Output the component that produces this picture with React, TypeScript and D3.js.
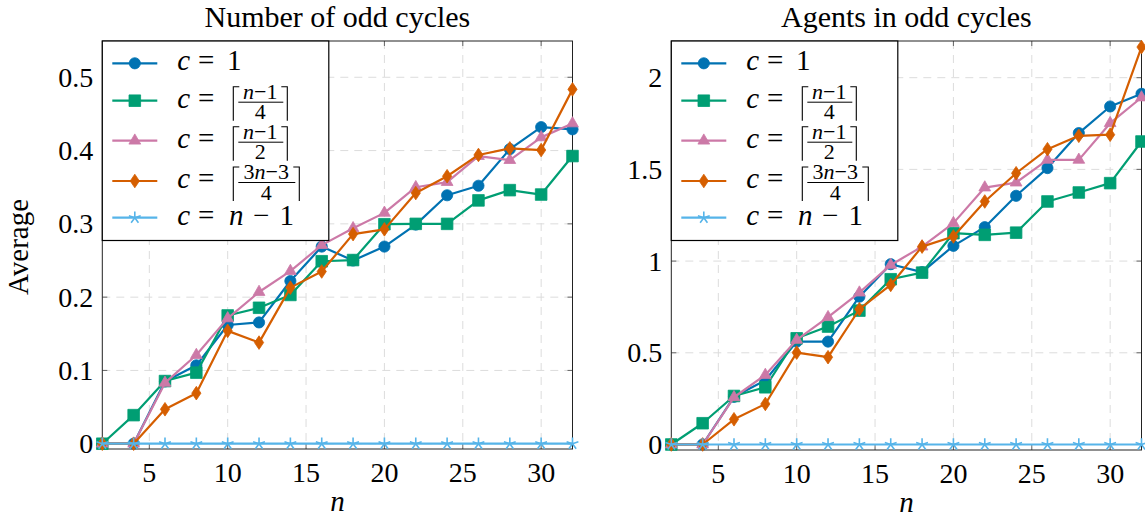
import React from 'react';
import * as d3 from 'd3';

// ---------------- data ----------------
const nValues = [2, 4, 6, 8, 10, 12, 14, 16, 18, 20, 22, 24, 26, 28, 30, 32];

// Number of odd cycles
const oddC1 = [0, 0, 0.085, 0.107, 0.162, 0.1655, 0.222, 0.269, 0.25, 0.269, 0.299, 0.339, 0.352, 0.402, 0.432, 0.429];
const oddCQuarter = [0, 0.039, 0.0855, 0.097, 0.175, 0.1855, 0.203, 0.249, 0.2506, 0.2995, 0.3, 0.3, 0.332, 0.346, 0.34, 0.3925];
const oddCHalf = [0, 0, 0.083, 0.121, 0.171, 0.207, 0.2356, 0.271, 0.294, 0.315, 0.35, 0.357, 0.3925, 0.387, 0.418, 0.437];
const oddCThreeQuarter = [0, 0, 0.047, 0.069, 0.154, 0.138, 0.213, 0.235, 0.286, 0.2925, 0.342, 0.365, 0.394, 0.403, 0.4007, 0.4835];
const oddCNMinus1 = [0, 0, 0, 0, 0, 0, 0, 0, 0, 0, 0, 0, 0, 0, 0, 0];

// Agents in odd cycles
const agentsC1 = [0, 0, 0.26, 0.35, 0.561, 0.561, 0.806, 0.983, 0.94, 1.083, 1.185, 1.356, 1.507, 1.698, 1.843, 1.912];
const agentsCQuarter = [0, 0.116, 0.2646, 0.312, 0.579, 0.643, 0.73, 0.901, 0.937, 1.152, 1.143, 1.155, 1.325, 1.374, 1.425, 1.652];
const agentsCHalf = [0, 0, 0.2575, 0.379, 0.57, 0.694, 0.828, 0.979, 1.079, 1.207, 1.401, 1.428, 1.552, 1.552, 1.752, 1.892];
const agentsCThreeQuarter = [0, 0, 0.1375, 0.221, 0.501, 0.476, 0.7375, 0.87, 1.079, 1.134, 1.325, 1.479, 1.61, 1.683, 1.689, 2.167];
const agentsCNMinus1 = [0, 0, 0, 0, 0, 0, 0, 0, 0, 0, 0, 0, 0, 0, 0, 0];

const xTicks = [5, 10, 15, 20, 25, 30];
const oddYTicks = [0, 0.1, 0.2, 0.3, 0.4, 0.5];
const agentsYTicks = [0, 0.5, 1, 1.5, 2];

const titles = ['Number of odd cycles', 'Agents in odd cycles'];
const xLabel = 'n';
const yLabel = 'Average';

const seriesColors = ['#0072B2', '#009E73', '#CC79A7', '#D55E00', '#56B4E9'];
const seriesMarkers = ['circle', 'square', 'triangle', 'diamond', 'star'];

// legend label descriptions
const legendLabels = [
  { kind: 'plain' },
  { kind: 'frac', num: ['', 'n', '−1'], den: '4' },
  { kind: 'frac', num: ['', 'n', '−1'], den: '2' },
  { kind: 'frac', num: ['3', 'n', '−3'], den: '4' },
  { kind: 'nminus' },
];

// ---------------- styling ----------------
const FONT = 'Liberation Serif, serif';
const W = 1145;
const H = 520;

function markerPath(kind: string): string {
  const p = d3.path();
  if (kind === 'circle') {
    p.arc(0, 0, 5.6, 0, Math.PI * 2);
  } else if (kind === 'square') {
    p.rect(-5.8, -5.8, 11.6, 11.6);
  } else if (kind === 'triangle') {
    const r = 6.8;
    p.moveTo(0, -r);
    p.lineTo(r * Math.cos(Math.PI / 6), r / 2);
    p.lineTo(-r * Math.cos(Math.PI / 6), r / 2);
    p.closePath();
  } else if (kind === 'diamond') {
    p.moveTo(0, -6.8);
    p.lineTo(4.6, 0);
    p.lineTo(0, 6.8);
    p.lineTo(-4.6, 0);
    p.closePath();
  } else {
    const r = 6.2;
    for (let k = 0; k < 5; k++) {
      const a = (k * 2 * Math.PI) / 5;
      p.moveTo(0, 0);
      p.lineTo(r * Math.sin(a), -r * Math.cos(a));
    }
  }
  return p.toString();
}

function Marker({ kind, color, x, y }: { kind: string; color: string; x: number; y: number }) {
  const isStar = kind === 'star';
  return (
    <path
      d={markerPath(kind)}
      transform={`translate(${x},${y})`}
      fill={isStar ? 'none' : color}
      stroke={color}
      strokeWidth={isStar ? 1.6 : 0.8}
      strokeLinejoin="miter"
    />
  );
}

function LegendLabel({ spec, x0, rowY }: { spec: any; x0: number; rowY: number }) {
  const fs = 29;
  const base = rowY + 7;
  const common = { fontFamily: FONT, fontSize: fs, fill: '#000' };
  const items: React.ReactNode[] = [
    <text key="c" x={x0 + 7} y={base} textAnchor="middle" fontStyle="italic" {...common}>c</text>,
    <text key="eq" x={x0 + 29.5} y={base} textAnchor="middle" {...common}>=</text>,
  ];
  if (spec.kind === 'plain') {
    items.push(<text key="one" x={x0 + 57.5} y={base} textAnchor="middle" {...common}>1</text>);
  } else if (spec.kind === 'nminus') {
    items.push(<text key="n" x={x0 + 59.5} y={base} textAnchor="middle" fontStyle="italic" {...common}>n</text>);
    items.push(<text key="m" x={x0 + 84.5} y={base} textAnchor="middle" {...common}>−</text>);
    items.push(<text key="one" x={x0 + 110} y={base} textAnchor="middle" {...common}>1</text>);
  } else {
    const wide = spec.num[0] !== '';
    const bl = x0 + 56.5;
    const fracW = wide ? 57 : 45;
    const br = bl + fracW + 9;
    const cx = bl + 4.5 + fracW / 2;
    const top = rowY - 14;
    const bottom = rowY + 20;
    const barY = rowY + 1.5;
    const ffs = 22;
    items.push(
      <path key="lb" d={`M${bl + 6},${top}H${bl}V${bottom}`} fill="none" stroke="#000" strokeWidth={1.1} />,
      <path key="rb" d={`M${br - 6},${top}H${br}V${bottom}`} fill="none" stroke="#000" strokeWidth={1.1} />,
      <line key="bar" x1={bl + 5} x2={br - 4} y1={barY} y2={barY} stroke="#000" strokeWidth={1} />,
      <text key="num" x={cx} y={barY - 3.5} textAnchor="middle" fontFamily={FONT} fontSize={ffs}>
        {spec.num[0]}
        <tspan fontStyle="italic">{spec.num[1]}</tspan>
        {spec.num[2]}
      </text>,
      <text key="den" x={cx} y={barY + 17} textAnchor="middle" fontFamily={FONT} fontSize={ffs}>
        {spec.den}
      </text>
    );
  }
  return <g>{items}</g>;
}

function Panel({
  left,
  right,
  top,
  bottom,
  yDomain,
  yTicks,
  series,
  title,
  showYLabel,
}: {
  left: number;
  right: number;
  top: number;
  bottom: number;
  yDomain: [number, number];
  yTicks: number[];
  series: number[][];
  title: string;
  showYLabel: boolean;
}) {
  const x = d3.scaleLinear().domain([2, 32]).range([left, right]);
  const y = d3.scaleLinear().domain(yDomain).range([bottom, top]);
  const line = d3
    .line<number>()
    .x((_, i) => x(nValues[i]))
    .y((d) => y(d));
  const tickLen = 5;
  const fmt = (v: number) => (v === 0 ? '0' : String(v));

  // legend box layout
  const lgLeft = left;
  const lgTop = top;
  const lgW = 226.5;
  const lgH = 199.5;
  const rowYs = [22.3, 59.7, 99.7, 140, 176.7];

  return (
    <g>
      {/* grid */}
      {xTicks.map((t) => (
        <line key={'gx' + t} x1={x(t)} x2={x(t)} y1={top} y2={bottom} stroke="#dcdcdc" strokeWidth={1} strokeDasharray="8,6" />
      ))}
      {yTicks.map((t) => (
        <line key={'gy' + t} x1={left} x2={right} y1={y(t)} y2={y(t)} stroke="#dcdcdc" strokeWidth={1} strokeDasharray="8,6" />
      ))}
      {/* ticks */}
      {xTicks.map((t) => (
        <g key={'tx' + t}>
          <line x1={x(t)} x2={x(t)} y1={bottom} y2={bottom - tickLen} stroke="#666" strokeWidth={1} />
          <line x1={x(t)} x2={x(t)} y1={top} y2={top + tickLen} stroke="#666" strokeWidth={1} />
        </g>
      ))}
      {yTicks.map((t) => (
        <g key={'ty' + t}>
          <line x1={left} x2={left + tickLen} y1={y(t)} y2={y(t)} stroke="#666" strokeWidth={1} />
          <line x1={right} x2={right - tickLen} y1={y(t)} y2={y(t)} stroke="#666" strokeWidth={1} />
        </g>
      ))}
      {/* axis box */}
      <rect x={left} y={top} width={right - left} height={bottom - top} fill="none" stroke="#222" strokeWidth={1} />
      {/* tick labels */}
      {xTicks.map((t) => (
        <text key={'lx' + t} x={x(t)} y={bottom + 33} textAnchor="middle" fontFamily={FONT} fontSize={28}>
          {t}
        </text>
      ))}
      {yTicks.map((t) => (
        <text key={'ly' + t} x={left - 9} y={y(t) + 9.5} textAnchor="end" fontFamily={FONT} fontSize={28}>
          {fmt(t)}
        </text>
      ))}
      {/* series */}
      {series.map((vals, si) => (
        <g key={'s' + si}>
          <path d={line(vals) || ''} fill="none" stroke={seriesColors[si]} strokeWidth={2.2} strokeLinejoin="round" />
          {vals.map((v, i) => (
            <Marker key={i} kind={seriesMarkers[si]} color={seriesColors[si]} x={x(nValues[i])} y={y(v)} />
          ))}
        </g>
      ))}
      {/* title and labels */}
      <text x={(left + right) / 2} y={top - 14} textAnchor="middle" fontFamily={FONT} fontSize={30}>
        {title}
      </text>
      <text x={(left + right) / 2} y={bottom + 62} textAnchor="middle" fontFamily={FONT} fontSize={29} fontStyle="italic">
        {xLabel}
      </text>
      {showYLabel && (
        <text
          transform={`translate(${left - 74},${(top + bottom) / 2 + 2}) rotate(-90)`}
          textAnchor="middle"
          fontFamily={FONT}
          fontSize={29}
        >
          {yLabel}
        </text>
      )}
      {/* legend */}
      <rect x={lgLeft} y={lgTop} width={lgW} height={lgH} fill="#fff" stroke="#000" strokeWidth={1.2} />
      {rowYs.map((ry, i) => {
        const cy = lgTop + ry;
        return (
          <g key={'lg' + i}>
            <line x1={lgLeft + 10} x2={lgLeft + 55} y1={cy} y2={cy} stroke={seriesColors[i]} strokeWidth={2.2} />
            <Marker kind={seriesMarkers[i]} color={seriesColors[i]} x={lgLeft + 32.5} y={cy} />
            <LegendLabel spec={legendLabels[i]} x0={lgLeft + 74.5} rowY={cy} />
          </g>
        );
      })}
    </g>
  );
}

export default function App() {
  return (
    <svg
      width={W}
      height={H}
      viewBox={`0 0 ${W} ${H}`}
      style={{ position: 'absolute', left: 0, top: 0, background: '#fff' }}
    >
      <rect width={W} height={H} fill="#fff" />
      <Panel
        left={102.3}
        right={572.5}
        top={41}
        bottom={449}
        yDomain={[-0.0072, 0.5495]}
        yTicks={oddYTicks}
        series={[oddC1, oddCQuarter, oddCHalf, oddCThreeQuarter, oddCNMinus1]}
        title={titles[0]}
        showYLabel={true}
      />
      <Panel
        left={671.3}
        right={1141.5}
        top={41}
        bottom={450}
        yDomain={[-0.03, 2.2]}
        yTicks={agentsYTicks}
        series={[agentsC1, agentsCQuarter, agentsCHalf, agentsCThreeQuarter, agentsCNMinus1]}
        title={titles[1]}
        showYLabel={false}
      />
    </svg>
  );
}
